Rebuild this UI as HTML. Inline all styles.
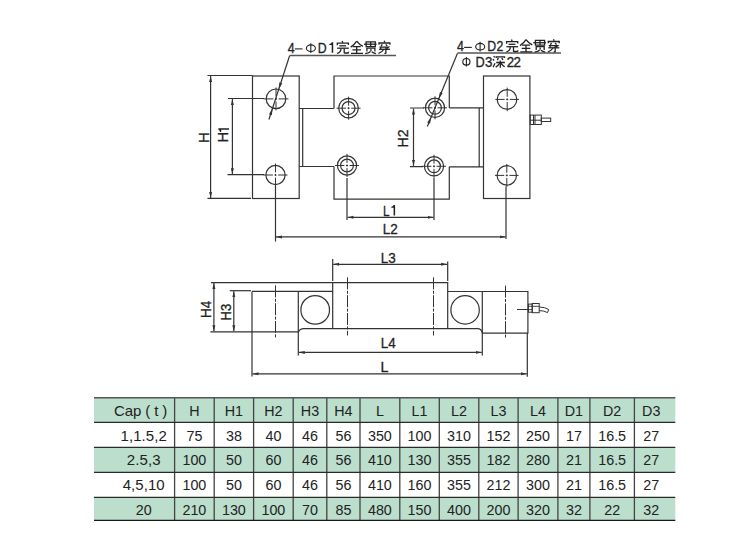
<!DOCTYPE html>
<html><head><meta charset="utf-8"><style>
html,body{margin:0;padding:0;background:#fff;}
body{width:742px;height:553px;overflow:hidden;position:relative;}
svg{position:absolute;left:0;top:0;}
text{font-family:"Liberation Sans",sans-serif;fill:#222;stroke:#222;stroke-width:0.3px;}
.tbl text{stroke:none;}
</style></head><body>
<svg width="742" height="553" viewBox="0 0 742 553">
<defs>
<marker id="a" viewBox="0 0 6 4" refX="6" refY="2" markerWidth="6" markerHeight="4" orient="auto-start-reverse" markerUnits="userSpaceOnUse"><path d="M0,0.5 L6,2 L0,3.5 z" fill="#333"/></marker>

<path id="g_one" d="M0,0 H-1.5 V-7.8 L-3.8,-7.8 L-3.8,-8.9 Q-2,-9.1 -1.4,-10.6 H0 Z" fill="#222"/>
<g id="g_wan" fill="none" stroke="#222" stroke-width="1.3" stroke-linecap="butt">
<path d="M6.3,0.5 L6.9,2.2"/>
<path d="M1.4,4.8 V2.7 H12.5 V4.6"/>
<path d="M3.4,5.3 H10.2"/>
<path d="M1.2,7.7 H12.9"/>
<path d="M5.1,7.9 Q5.1,11.6 1.2,12.9"/>
<path d="M8.3,7.9 V12.2 Q8.3,12.5 9,12.5 H12.2 Q12.7,12.5 12.7,11.2"/>
</g>
<g id="g_quan" fill="none" stroke="#222" stroke-width="1.3">
<path d="M7,0.6 Q4.8,4.2 1.0,6.6"/>
<path d="M7,0.6 Q9.5,4.0 13.3,5.9"/>
<path d="M3,6.2 H11 M2.7,9.3 H11.3 M1.3,12.8 H13.3 M7,6.2 V12.8"/>
</g>
<g id="g_guan" fill="none" stroke="#222" stroke-width="1.3">
<path d="M2.6,1.4 H11.8 V6.2 H2.6 Z"/>
<path d="M7.2,1.4 V6.2"/>
<path d="M0.5,3.7 H13.1"/>
<path d="M3.4,11 V7.6 H11.4 V11"/>
<path d="M7.4,8.6 V10.6"/>
<path d="M6.9,10.8 Q6.0,12.6 1.7,13.2"/>
<path d="M8.1,11.2 Q10,12.6 12.4,13.1"/>
</g>
<g id="g_chuan" fill="none" stroke="#222" stroke-width="1.3">
<path d="M7.0,0.2 L7.6,1.9"/>
<path d="M1.8,4.2 V2.5 H12.7 V4.2"/>
<path d="M5.0,3.9 L3.9,5.8 M8.6,3.9 L10,5.6"/>
<path d="M2.2,6.6 H11.3 L9.4,8.2"/>
<path d="M1.8,8.8 H12.8"/>
<path d="M3.8,6.6 L3.3,8.8"/>
<path d="M8.7,6.8 V12.4 Q8.7,13.2 7.2,12.8"/>
<path d="M6.6,9.0 Q4.8,11.6 1.3,13.0"/>
</g>
<g id="g_shen" fill="none" stroke="#222" stroke-width="1.3">
<path d="M2.8,1.2 L4.0,2.4 M2.0,4.2 L3.3,5.4 M2.3,12.2 L4.2,8.2"/>
<path d="M5.4,3.1 V1.8 H13.7 V3.1"/>
<path d="M7.6,2.8 L6.6,5.2 M10.9,2.8 L12.1,5.0"/>
<path d="M5.4,7.5 H14.1 M9.5,5.4 V12.7"/>
<path d="M9.2,7.9 Q7.5,10.5 4.9,12.1 M9.8,7.9 Q11.5,10.4 13.9,11.7"/>
</g>

</defs>
<g fill="none" stroke="#333" stroke-width="1.2">
<rect x="252.5" y="76" width="46.7" height="122.5"/>
<path d="M299,108.5 H334 M299,166.5 H334 M302.7,108.5 V166.5"/>
<path d="M334,108.5 V76 H449.3 V108 M334,166.5 V199.2 H449.3 V166.8"/>
<path d="M449.3,107.8 H483.5 M449.3,166.8 H483.5 M479.2,107.8 V166.8"/>
<rect x="483.5" y="76" width="46.4" height="122.5"/>
</g>
<g fill="none" stroke="#333" stroke-width="1.2">
<circle cx="276" cy="98.8" r="9.8"/>
<circle cx="275.5" cy="175" r="9.6"/>
<circle cx="507" cy="99.4" r="9.8"/>
<circle cx="506.8" cy="175.4" r="9.7"/>
<circle cx="348.5" cy="108.1" r="9.8"/><circle cx="348.5" cy="108.1" r="6.5"/>
<circle cx="347" cy="165.5" r="9.6"/><circle cx="347" cy="165.5" r="6.4"/>
<circle cx="435" cy="107.8" r="9.6"/><circle cx="435" cy="107.8" r="6.4"/>
<circle cx="434" cy="166.3" r="9.6"/><circle cx="434" cy="166.3" r="6.4"/>
</g>
<g fill="none" stroke="#333" stroke-width="1">
<path d="M263.5,98.9 H288.5" stroke-dasharray="9.9 1.6 2 1.6 9.9 60"/>
<path d="M276,87.5 V110.3" stroke-dasharray="8.8 1.6 2 1.6 8.8 60"/>
<path d="M263.5,175 H287.5" stroke-dasharray="9.4 1.6 2 1.6 9.4 60"/>
<path d="M275.5,163.5 V186.5" stroke-dasharray="8.9 1.6 2 1.6 8.9 60"/>
<path d="M495.4,99.4 H519.0" stroke-dasharray="9.2 1.6 2 1.6 9.2 60"/>
<path d="M507.2,87.6 V111.2" stroke-dasharray="9.2 1.6 2 1.6 9.2 60"/>
<path d="M495.0,175.4 H518.6" stroke-dasharray="9.2 1.6 2 1.6 9.2 60"/>
<path d="M506.8,163.9 V186.9" stroke-dasharray="8.9 1.6 2 1.6 8.9 60"/>
<path d="M336.6,108.2 H360.6" stroke-dasharray="9.4 1.6 2 1.6 9.4 60"/>
<path d="M348.6,96.7 V119.7" stroke-dasharray="8.9 1.6 2 1.6 8.9 60"/>
<path d="M335.0,165.5 H359.0" stroke-dasharray="9.4 1.6 2 1.6 9.4 60"/>
<path d="M347,154.0 V177.0" stroke-dasharray="8.9 1.6 2 1.6 8.9 60"/>
<path d="M423.0,107.8 H447.0" stroke-dasharray="9.4 1.6 2 1.6 9.4 60"/>
<path d="M435,96.3 V119.3" stroke-dasharray="8.9 1.6 2 1.6 8.9 60"/>
<path d="M422.0,166.3 H446.0" stroke-dasharray="9.4 1.6 2 1.6 9.4 60"/>
<path d="M434,154.8 V177.8" stroke-dasharray="8.9 1.6 2 1.6 8.9 60"/>
</g>
<g fill="none" stroke="#333" stroke-width="1.2">
<path d="M207.5,75.5 H252.5 M207.5,198.4 H251"/>
<path d="M210.6,76 V198" marker-start="url(#a)" marker-end="url(#a)"/>
<path d="M228,98.5 H264 M227.5,174.7 H264"/>
<path d="M232.4,99 V174.2" marker-start="url(#a)" marker-end="url(#a)"/>
<path d="M410,108 H424 M410,166.6 H423"/>
<path d="M413.5,108.5 V166" marker-start="url(#a)" marker-end="url(#a)"/>
<path d="M347,178 V220 M434,178 V220"/>
<path d="M347.5,217.3 H433.5" marker-start="url(#a)" marker-end="url(#a)"/>
<path d="M275.5,186 V241.5 M506,186.5 V239"/>
<path d="M276,236.9 H505.5" marker-start="url(#a)" marker-end="url(#a)"/>
<path d="M289.6,55.8 L268.9,119.5"/>
<path d="M289.6,55.6 H396" stroke="#555" stroke-width="1.5"/>
<path d="M457.5,53.3 L427.3,126.4"/>
<path d="M457.5,53.1 H561" stroke="#555" stroke-width="1.5"/>
</g>
<g fill="#333">
<path d="M278.66,89.47 L279.40,82.35 L282.25,83.27 Z"/>
<path d="M272.61,108.09 L271.87,115.21 L269.02,114.29 Z"/>
<path d="M438.65,98.92 L439.94,91.88 L442.71,93.02 Z"/>
<path d="M431.32,116.67 L430.03,123.71 L427.26,122.56 Z"/>
</g>
<text id="H" transform="translate(209.18,143.05) rotate(-90) scale(0.9787 1)" font-size="15.2">H</text>
<text id="H1" transform="translate(228.1,142.42) rotate(-90) scale(0.9668 1)" font-size="15.2">H</text>
<use href="#g_one" transform="translate(229,128.3) rotate(-90)"/>
<text id="H2" transform="translate(408.24,147.48) rotate(-90) scale(0.9259 1)" font-size="15.2">H2</text>
<text id="L1" x="0" y="0" transform="translate(382.94,215.62) scale(0.7788 1)" font-size="15.2">L</text>
<use href="#g_one" transform="translate(395.1,215.6)"/>
<text id="L2" x="0" y="0" transform="translate(382.7,233.78) scale(0.8892 1)" font-size="15.2">L2</text>
<g transform="translate(0,0)">
<text x="291.2" y="52.8" font-size="14.5" text-anchor="middle" transform="translate(291.2 0) scale(0.86 1) translate(-291.2 0)">4</text>
<path d="M294.8,48.9 H302.5" stroke="#222" stroke-width="1.1"/>
<ellipse cx="310.9" cy="48.2" rx="4.5" ry="3.3" fill="none" stroke="#222" stroke-width="1.15"/>
<path d="M310.8,43.2 V52.9" stroke="#222" stroke-width="1.1"/>
<text x="322.3" y="52.8" font-size="14.5" text-anchor="middle" transform="translate(322.3 0) scale(0.85 1) translate(-322.3 0)">D</text>
<use href="#g_one" transform="translate(333.2,52.8)"/>
<use href="#g_wan" x="335.9" y="40.5"/>
<use href="#g_quan" x="349.7" y="40.5"/>
<use href="#g_guan" x="363.5" y="40.5"/>
<use href="#g_chuan" x="377.2" y="40.5"/>
</g>
<g transform="translate(169.3,-1.5)">
<text x="291.2" y="52.8" font-size="14.5" text-anchor="middle" transform="translate(291.2 0) scale(0.86 1) translate(-291.2 0)">4</text>
<path d="M294.8,48.9 H302.5" stroke="#222" stroke-width="1.1"/>
<ellipse cx="310.9" cy="48.2" rx="4.5" ry="3.3" fill="none" stroke="#222" stroke-width="1.15"/>
<path d="M310.8,43.2 V52.9" stroke="#222" stroke-width="1.1"/>
<text x="322.3" y="52.8" font-size="14.5" text-anchor="middle" transform="translate(322.3 0) scale(0.85 1) translate(-322.3 0)">D</text>
<text x="330.6" y="52.8" font-size="14.5" text-anchor="middle" transform="translate(330.6 0) scale(0.85 1) translate(-330.6 0)">2</text>
<use href="#g_wan" x="335.9" y="40.5"/>
<use href="#g_quan" x="349.7" y="40.5"/>
<use href="#g_guan" x="363.5" y="40.5"/>
<use href="#g_chuan" x="377.2" y="40.5"/>
</g>
<ellipse cx="466.4" cy="61.8" rx="3.6" ry="3.3" fill="none" stroke="#222" stroke-width="1.15"/>
<path d="M466.4,57.0 V66.5" stroke="#222" stroke-width="1.1"/>
<text x="480.2" y="66.6" font-size="14.5" text-anchor="middle" transform="translate(480.2 0) scale(0.88 1) translate(-480.2 0)">D</text>
<text x="488.6" y="66.6" font-size="14.5" text-anchor="middle" transform="translate(488.6 0) scale(0.92 1) translate(-488.6 0)">3</text>
<use href="#g_shen" x="490.8" y="55"/>
<text x="513.6" y="66.6" font-size="14.5" text-anchor="middle" letter-spacing="-0.6" transform="translate(513.6 0) scale(0.92 1) translate(-513.6 0)">22</text>
<g fill="none" stroke="#333" stroke-width="1.2">
<path d="M211,282.6 H447.7 V328.5"/>
<path d="M229.8,290.7 H251"/>
<path d="M252,291.4 H332.7 M332.7,282.6 V328.5"/>
<path d="M252,291.4 V376.6"/>
<path d="M298.3,291.4 V331.7"/>
<path d="M447.7,291.5 H527.9 V333.1 H482.3 M482.3,291.5 V355.6"/>
<path d="M210.4,331.9 H298.3 Q300,328.6 303.5,328.6 H477.5 Q481.5,328.6 482.3,333.1"/>
<path d="M298.3,331.7 V355.6"/>
<path d="M527.3,333.1 V376.8"/>
<circle cx="315.2" cy="309.9" r="14.3"/>
<circle cx="465.1" cy="309.9" r="14.2"/>
<path d="M213.9,283 V331.2" marker-start="url(#a)" marker-end="url(#a)"/>
<path d="M233.8,291.2 V331.2" marker-start="url(#a)" marker-end="url(#a)"/>
<path d="M332.7,259 V281 M447.7,261.4 V281"/>
<path d="M333.2,264.3 H447.2" marker-start="url(#a)" marker-end="url(#a)"/>
<path d="M298.8,352.4 H481.8" marker-start="url(#a)" marker-end="url(#a)"/>
<path d="M252.5,373.8 H526.8" marker-start="url(#a)" marker-end="url(#a)"/>
</g>
<g fill="none" stroke="#333" stroke-width="1" stroke-dasharray="12 1.4 3 1.4">
<path d="M275.5,285.4 V337.5 M347.5,277.4 V335.5 M433.5,277.4 V335.5 M505.5,285.6 V337.5"/>
</g>
<g fill="none" stroke="#333" stroke-width="1">
<path d="M517,309.5 H528.4"/>
<rect x="528.4" y="304.1" width="3.8" height="8.1"/>
<rect x="532.2" y="303.5" width="7" height="9.2"/>
<path d="M528.4,306.3 H539.2 M528.4,309.6 H532.2" stroke-width="0.9"/>
<path d="M539.2,307 Q545,307 548.7,309.5 L547.5,312.6 Q544,310.6 539.2,310.6"/>
</g>
<g fill="none" stroke="#333" stroke-width="1">
<rect x="530.3" y="115.1" width="11" height="9.4"/>
<path d="M533.5,115.1 V124.5 M535,115.1 V124.5 M530.3,120.2 H541.3"/>
<rect x="541.3" y="118.1" width="9.4" height="3.4"/>
</g>
<text id="H4" transform="translate(210.77,317.96) rotate(-90) scale(0.8902 1)" font-size="15.2">H4</text>
<text id="H3" transform="translate(231.42,320.48) rotate(-90) scale(0.8567 1)" font-size="15.2">H3</text>
<text id="L3" x="0" y="0" transform="translate(380.79,262.98) scale(0.8859 1)" font-size="15.2">L3</text>
<text id="L4" x="0" y="0" transform="translate(380.86,348.18) scale(0.8859 1)" font-size="15.2">L4</text>
<text id="L" x="0" y="0" transform="translate(380.42,371.76) scale(0.9471 1)" font-size="15.2">L</text>
<g fill="#bcdecd">
<rect x="94" y="397.6" width="581.3" height="24.8"/>
<rect x="94" y="447.4" width="581.3" height="25.0"/>
<rect x="94" y="497.3" width="581.3" height="23.1"/>
</g>
<g fill="none"><path d="M174.6,397.6 V520.4 M214.2,397.6 V520.4 M253.6,397.6 V520.4 M293.2,397.6 V520.4 M326.8,397.6 V520.4 M360.0,397.6 V520.4 M399.8,397.6 V520.4 M439.3,397.6 V520.4 M478.8,397.6 V520.4 M518.1,397.6 V520.4 M557.9,397.6 V520.4 M589.9,397.6 V520.4 M634.4,397.6 V520.4" stroke="#444" stroke-width="1.3"/><path d="M94,397.7 H675.3" stroke="#555" stroke-width="1.4"/><path d="M94,422.4 H675.3 M94,447.4 H675.3 M94,472.4 H675.3 M94,497.3 H675.3" stroke="#2a2a2a" stroke-width="1.2"/><path d="M94,520.4 H675.3" stroke="#1a1a1a" stroke-width="1.3"/></g>
<g font-size="15.4" text-anchor="middle" class="tbl">
<text x="140.70" y="415.8" transform="matrix(1.0 0 0 1 0.000 0)" textLength="53.3" lengthAdjust="spacing" font-size="15">Cap ( t )</text>
<text x="194.40" y="415.8" transform="matrix(0.93 0 0 1 13.608 0)">H</text>
<text x="233.90" y="415.8" transform="matrix(0.93 0 0 1 16.373 0)">H1</text>
<text x="273.40" y="415.8" transform="matrix(0.93 0 0 1 19.138 0)">H2</text>
<text x="310.00" y="415.8" transform="matrix(0.93 0 0 1 21.700 0)">H3</text>
<text x="343.40" y="415.8" transform="matrix(0.93 0 0 1 24.038 0)">H4</text>
<text x="379.90" y="415.8" transform="matrix(0.93 0 0 1 26.593 0)">L</text>
<text x="419.55" y="415.8" transform="matrix(0.93 0 0 1 29.368 0)">L1</text>
<text x="459.05" y="415.8" transform="matrix(0.93 0 0 1 32.133 0)">L2</text>
<text x="498.45" y="415.8" transform="matrix(0.93 0 0 1 34.891 0)">L3</text>
<text x="538.00" y="415.8" transform="matrix(0.93 0 0 1 37.660 0)">L4</text>
<text x="573.90" y="415.8" transform="matrix(0.93 0 0 1 40.173 0)">D1</text>
<text x="612.15" y="415.8" transform="matrix(0.93 0 0 1 42.850 0)">D2</text>
<text x="651.20" y="415.8" transform="matrix(0.93 0 0 1 45.584 0)">D3</text>
<text x="143.70" y="440.7" transform="matrix(1.0 0 0 1 0.000 0)" textLength="46.3" lengthAdjust="spacing" font-size="15">1,1.5,2</text>
<text x="194.40" y="440.7" transform="matrix(0.93 0 0 1 13.608 0)">75</text>
<text x="233.90" y="440.7" transform="matrix(0.93 0 0 1 16.373 0)">38</text>
<text x="273.40" y="440.7" transform="matrix(0.93 0 0 1 19.138 0)">40</text>
<text x="310.00" y="440.7" transform="matrix(0.93 0 0 1 21.700 0)">46</text>
<text x="343.40" y="440.7" transform="matrix(0.93 0 0 1 24.038 0)">56</text>
<text x="379.90" y="440.7" transform="matrix(0.93 0 0 1 26.593 0)">350</text>
<text x="419.55" y="440.7" transform="matrix(0.93 0 0 1 29.368 0)">100</text>
<text x="459.05" y="440.7" transform="matrix(0.93 0 0 1 32.133 0)">310</text>
<text x="498.45" y="440.7" transform="matrix(0.93 0 0 1 34.891 0)">152</text>
<text x="538.00" y="440.7" transform="matrix(0.93 0 0 1 37.660 0)">250</text>
<text x="573.90" y="440.7" transform="matrix(0.93 0 0 1 40.173 0)">17</text>
<text x="612.15" y="440.7" transform="matrix(0.93 0 0 1 42.850 0)">16.5</text>
<text x="651.20" y="440.7" transform="matrix(0.93 0 0 1 45.584 0)">27</text>
<text x="143.70" y="465.3" transform="matrix(1.0 0 0 1 0.000 0)" textLength="33.9" lengthAdjust="spacing" font-size="15">2.5,3</text>
<text x="194.40" y="465.3" transform="matrix(0.93 0 0 1 13.608 0)">100</text>
<text x="233.90" y="465.3" transform="matrix(0.93 0 0 1 16.373 0)">50</text>
<text x="273.40" y="465.3" transform="matrix(0.93 0 0 1 19.138 0)">60</text>
<text x="310.00" y="465.3" transform="matrix(0.93 0 0 1 21.700 0)">46</text>
<text x="343.40" y="465.3" transform="matrix(0.93 0 0 1 24.038 0)">56</text>
<text x="379.90" y="465.3" transform="matrix(0.93 0 0 1 26.593 0)">410</text>
<text x="419.55" y="465.3" transform="matrix(0.93 0 0 1 29.368 0)">130</text>
<text x="459.05" y="465.3" transform="matrix(0.93 0 0 1 32.133 0)">355</text>
<text x="498.45" y="465.3" transform="matrix(0.93 0 0 1 34.891 0)">182</text>
<text x="538.00" y="465.3" transform="matrix(0.93 0 0 1 37.660 0)">280</text>
<text x="573.90" y="465.3" transform="matrix(0.93 0 0 1 40.173 0)">21</text>
<text x="612.15" y="465.3" transform="matrix(0.93 0 0 1 42.850 0)">16.5</text>
<text x="651.20" y="465.3" transform="matrix(0.93 0 0 1 45.584 0)">27</text>
<text x="143.70" y="490.1" transform="matrix(1.0 0 0 1 0.000 0)" textLength="42.0" lengthAdjust="spacing" font-size="15">4,5,10</text>
<text x="194.40" y="490.1" transform="matrix(0.93 0 0 1 13.608 0)">100</text>
<text x="233.90" y="490.1" transform="matrix(0.93 0 0 1 16.373 0)">50</text>
<text x="273.40" y="490.1" transform="matrix(0.93 0 0 1 19.138 0)">60</text>
<text x="310.00" y="490.1" transform="matrix(0.93 0 0 1 21.700 0)">46</text>
<text x="343.40" y="490.1" transform="matrix(0.93 0 0 1 24.038 0)">56</text>
<text x="379.90" y="490.1" transform="matrix(0.93 0 0 1 26.593 0)">410</text>
<text x="419.55" y="490.1" transform="matrix(0.93 0 0 1 29.368 0)">160</text>
<text x="459.05" y="490.1" transform="matrix(0.93 0 0 1 32.133 0)">355</text>
<text x="498.45" y="490.1" transform="matrix(0.93 0 0 1 34.891 0)">212</text>
<text x="538.00" y="490.1" transform="matrix(0.93 0 0 1 37.660 0)">300</text>
<text x="573.90" y="490.1" transform="matrix(0.93 0 0 1 40.173 0)">21</text>
<text x="612.15" y="490.1" transform="matrix(0.93 0 0 1 42.850 0)">16.5</text>
<text x="651.20" y="490.1" transform="matrix(0.93 0 0 1 45.584 0)">27</text>
<text x="143.70" y="514.7" transform="matrix(0.93 0 0 1 10.059 0)">20</text>
<text x="194.40" y="514.7" transform="matrix(0.93 0 0 1 13.608 0)">210</text>
<text x="233.90" y="514.7" transform="matrix(0.93 0 0 1 16.373 0)">130</text>
<text x="273.40" y="514.7" transform="matrix(0.93 0 0 1 19.138 0)">100</text>
<text x="310.00" y="514.7" transform="matrix(0.93 0 0 1 21.700 0)">70</text>
<text x="343.40" y="514.7" transform="matrix(0.93 0 0 1 24.038 0)">85</text>
<text x="379.90" y="514.7" transform="matrix(0.93 0 0 1 26.593 0)">480</text>
<text x="419.55" y="514.7" transform="matrix(0.93 0 0 1 29.368 0)">150</text>
<text x="459.05" y="514.7" transform="matrix(0.93 0 0 1 32.133 0)">400</text>
<text x="498.45" y="514.7" transform="matrix(0.93 0 0 1 34.891 0)">200</text>
<text x="538.00" y="514.7" transform="matrix(0.93 0 0 1 37.660 0)">320</text>
<text x="573.90" y="514.7" transform="matrix(0.93 0 0 1 40.173 0)">32</text>
<text x="612.15" y="514.7" transform="matrix(0.93 0 0 1 42.850 0)">22</text>
<text x="651.20" y="514.7" transform="matrix(0.93 0 0 1 45.584 0)">32</text>
</g>
</svg>
</body></html>
